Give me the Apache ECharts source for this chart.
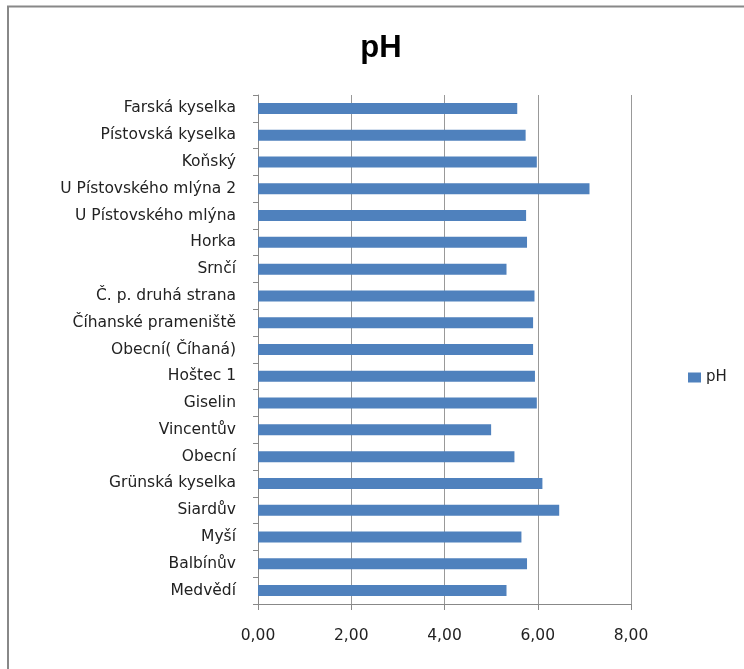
<!DOCTYPE html>
<html>
<head>
<meta charset="utf-8">
<script src="https://cdn.jsdelivr.net/npm/echarts@6/dist/echarts.min.js"></script>
<style>
  html, body { margin: 0; padding: 0; background: #fff; }
  #chart { width: 744px; height: 669px; }
</style>
</head>
<body>
<div id="chart"></div>
<script>
// lokality shora dolů
var categories = [
  'Farská kyselka', 'Pístovská kyselka', 'Koňský', 'U Pístovského mlýna 2',
  'U Pístovského mlýna', 'Horka', 'Srnčí', 'Č. p. druhá strana',
  'Číhanské prameniště', 'Obecní( Číhaná)', 'Hoštec 1', 'Giselin',
  'Vincentův', 'Obecní', 'Grünská kyselka', 'Siardův', 'Myší',
  'Balbínův', 'Medvědí'
];
var phValues = [
  5.56, 5.74, 5.98, 7.11,
  5.75, 5.77, 5.33, 5.93,
  5.90, 5.90, 5.94, 5.98,
  5.00, 5.50, 6.10, 6.46, 5.65,
  5.77, 5.33
];
var xTicks = [0, 2, 4, 6, 8];

var font = '"DejaVu Sans", sans-serif';
var chart = echarts.init(document.getElementById('chart'));
var option = {
  animation: false,
  backgroundColor: '#fff',
  title: {
    text: 'pH',
    left: 376,
    top: 28,
    textAlign: 'center',
    textStyle: { fontFamily: '"Liberation Sans", Arial, sans-serif', fontSize: 31, fontWeight: 'bold', color: '#000' }
  },
  legend: {
    data: ['pH'],
    left: 683,
    top: 365,
    orient: 'vertical',
    itemWidth: 13,
    itemHeight: 10,
    itemGap: 6,
    icon: 'rect',
    textStyle: { fontFamily: font, fontSize: 15, color: '#222' }
  },
  grid: { left: 258, right: 113, top: 95, bottom: 65, containLabel: false },
  xAxis: {
    type: 'value',
    min: xTicks[0],
    max: xTicks[xTicks.length - 1],
    interval: 2,
    axisLine: { show: true, lineStyle: { color: '#888' } },
    axisTick: { show: true, length: 6, lineStyle: { color: '#888' } },
    axisLabel: {
      fontFamily: font, fontSize: 15.5, color: '#222', margin: 24,
      formatter: function (v) { return v.toFixed(2).replace('.', ','); }
    },
    splitLine: { show: true, lineStyle: { color: '#999', width: 1 } }
  },
  yAxis: {
    type: 'category',
    inverse: true,
    data: categories,
    axisLine: { show: true, lineStyle: { color: '#888' } },
    axisTick: { show: true, length: 5, lineStyle: { color: '#888' } },
    axisLabel: { fontFamily: font, fontSize: 15.5, color: '#222', margin: 22 }
  },
  series: [{
    name: 'pH',
    type: 'bar',
    data: phValues,
    barWidth: 11,
    itemStyle: { color: '#4f81bd' }
  }],
  graphic: [{
    type: 'rect',
    shape: { x: 8, y: 6.5, width: 760, height: 700 },
    style: { fill: 'none', stroke: '#888', lineWidth: 2 },
    silent: true
  }]
};
chart.setOption(option);
</script>
</body>
</html>
